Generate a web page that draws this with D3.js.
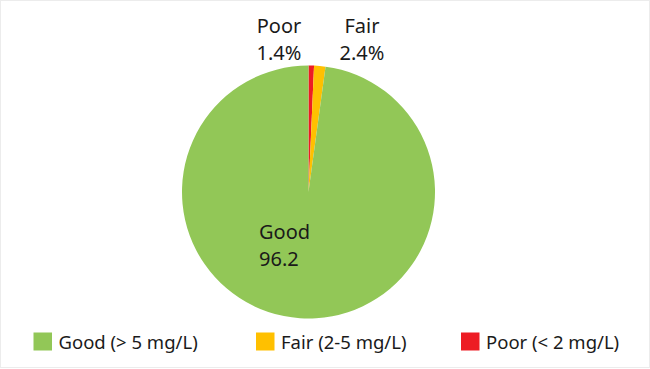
<!DOCTYPE html>
<meta charset="utf-8">
<style>
body { margin: 0; background: #fff; }
svg text { font-family: "Segoe UI", "Noto Sans", sans-serif; fill: #1a1a1a; }
</style>
<body>
<div id="chart"></div>
<script src="https://d3js.org/d3.v7.min.js"></script>
<script>

// categories in drawing order (clockwise from 12 o'clock)
var categories  = ["Poor", "Fair", "Good"];
var legendNames = ["Good (> 5 mg/L)", "Fair (2-5 mg/L)", "Poor (< 2 mg/L)"];
// wedge shares (%)
var shares      = [0.7, 1.45, 97.85];
// data labels as printed on the chart
var labelText   = ["1.4%", "2.4%", "96.2"];
var colors      = { Good: "#92c757", Fair: "#ffc000", Poor: "#ed1c24" };

var width = 650, height = 369;

var svg = d3.select("#chart").append("svg")
    .attr("width", width)
    .attr("height", height);

svg.append("rect")
    .attr("x", 0.5).attr("y", 0.5)
    .attr("width", width - 1).attr("height", height - 2)
    .attr("fill", "#fff")
    .attr("stroke", "#ececec");

var cx = 308.5, cy = 192, r = 126.5;

var pie = d3.pie().sort(null).value(d => d.share);
var arc = d3.arc().innerRadius(0).outerRadius(r);

var data = categories.map((c, i) => ({ name: c, share: shares[i], label: labelText[i] }));

var g = svg.append("g").attr("transform", "translate(" + cx + "," + cy + ")");

g.selectAll("path")
    .data(pie(data))
    .enter().append("path")
    .attr("d", arc)
    .attr("fill", d => colors[d.data.name]);

// data labels
var labelPos = {
    Poor: { x: 279, y: 33, anchor: "middle" },
    Fair: { x: 362, y: 33, anchor: "middle" },
    Good: { x: 259, y: 239, anchor: "start" }
};

data.forEach(function(d) {
    var p = labelPos[d.name];
    var t = svg.append("text")
        .attr("text-anchor", p.anchor)
        .style("font-size", "20px");
    t.append("tspan").attr("x", p.x).attr("y", p.y).text(d.name);
    t.append("tspan").attr("x", p.x).attr("y", p.y + 27).text(d.label);
});

// legend
var legendX = [33.5, 256, 461];
var legendOrder = ["Good", "Fair", "Poor"];

var legend = svg.append("g").attr("class", "legend");

legendOrder.forEach(function(name, i) {
    legend.append("rect")
        .attr("x", legendX[i]).attr("y", 332.5)
        .attr("width", 18.5).attr("height", 18)
        .attr("fill", colors[name]);
    legend.append("text")
        .attr("x", legendX[i] + 25).attr("y", 348.5)
        .style("font-size", "18.5px")
        .text(legendNames[i]);
});

</script>
